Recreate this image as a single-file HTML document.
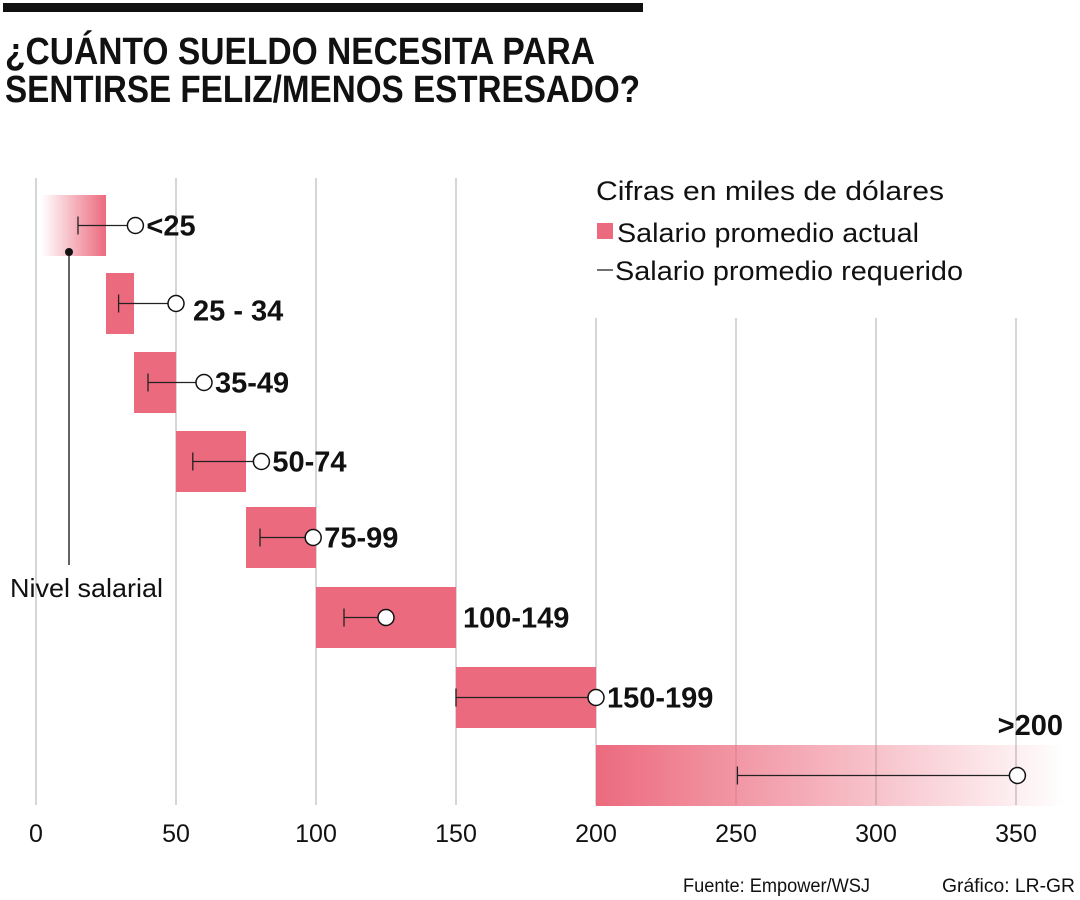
<!DOCTYPE html>
<html><head><meta charset="utf-8"><style>
html,body{margin:0;padding:0;background:#fff;}
svg{display:block;font-family:"Liberation Sans",sans-serif;}
</style></head><body>
<svg id="chart" width="1080" height="900" viewBox="0 0 1080 900">
<defs>
<linearGradient id="gL" x1="0" x2="1" y1="0" y2="0"><stop offset="0" stop-color="#ec6a7e" stop-opacity="0"/><stop offset="1" stop-color="#ec6a7e"/></linearGradient>
<linearGradient id="gR" x1="0" x2="1" y1="0" y2="0"><stop offset="0" stop-color="#ec6a7e"/><stop offset="1" stop-color="#ec6a7e" stop-opacity="0"/></linearGradient>
</defs>
<rect x="3" y="3" width="640" height="9" fill="#111"/>
<text x="5" y="64" font-size="38" font-weight="bold" textLength="590" lengthAdjust="spacingAndGlyphs" fill="#111">¿CUÁNTO SUELDO NECESITA PARA</text>
<text x="5" y="102" font-size="38" font-weight="bold" textLength="635" lengthAdjust="spacingAndGlyphs" fill="#111">SENTIRSE FELIZ/MENOS ESTRESADO?</text>
<g id="grid"></g>
<g id="bars"></g>
<g id="ticks"></g>
<text x="596" y="200" font-size="27" textLength="348" lengthAdjust="spacingAndGlyphs" fill="#111">Cifras en miles de dólares</text>
<rect x="597" y="223" width="16" height="16" fill="#ec6a7e"/>
<text x="617" y="242" font-size="27" textLength="302" lengthAdjust="spacingAndGlyphs" fill="#111">Salario promedio actual</text>
<line x1="597" y1="270" x2="613" y2="270" stroke="#111" stroke-width="1.2"/>
<text x="615" y="280" font-size="27" textLength="348" lengthAdjust="spacingAndGlyphs" fill="#111">Salario promedio requerido</text>
<line x1="69" y1="252" x2="69" y2="565" stroke="#111" stroke-width="1.3"/>
<circle cx="69" cy="252" r="4" fill="#111"/>
<text x="10" y="597" font-size="26" textLength="153" lengthAdjust="spacingAndGlyphs" fill="#111">Nivel salarial</text>
<text x="683" y="892" font-size="19" textLength="187" lengthAdjust="spacingAndGlyphs" fill="#111">Fuente: Empower/WSJ</text>
<text x="942" y="892" font-size="19" textLength="133" lengthAdjust="spacingAndGlyphs" fill="#111">Gráfico: LR-GR</text>
</svg>
<script>
const categories=["<25","25 - 34","35-49","50-74","75-99","100-149","150-199",">200"];
const barStart=[2,25,35,50,75,100,150,200];
const barEnd=[25,35,50,75,100,150,200,368];
const requiredLow=[15,29.5,40,56,80,110,150,250.5];
const requiredHigh=[35.5,50,60,80.5,99,125,200,350.5];
const xTicks=[0,50,100,150,200,250,300,350];
const NS="http://www.w3.org/2000/svg";
const x=v=>36+v*2.8;
const rowY=[195,273,352,431,507,587,667,745];
const rowH=61;
function mk(tag,attrs,parent){const e=document.createElementNS(NS,tag);for(const k in attrs)e.setAttribute(k,attrs[k]);parent.appendChild(e);return e;}
const grid=document.getElementById('grid'),bars=document.getElementById('bars'),ticks=document.getElementById('ticks');
xTicks.forEach((t,i)=>{
  const l=mk('line',{x1:x(t),x2:x(t),y1:t>=200?318:178,y2:805,stroke:'#c8c8c8','stroke-width':1.5},grid);
  
  
  const tx=mk('text',{x:x(t),y:842,'font-size':25,'text-anchor':'middle',fill:'#111'},ticks);
  tx.textContent=t;
  
  
});
categories.forEach((c,i)=>{
  const y0=rowY[i],cy=y0+rowH/2;
  const fill=i===0?'url(#gL)':(i===categories.length-1?'url(#gR)':'#ec6a7e');
  const r=mk('rect',{x:x(barStart[i]),y:y0,width:x(barEnd[i])-x(barStart[i]),height:rowH,fill:fill},bars);
  
  
  const wl=mk('line',{x1:x(requiredLow[i]),x2:x(requiredHigh[i]),y1:cy,y2:cy,stroke:'#222','stroke-width':1.3},bars);
  
  
  const tk=mk('line',{x1:x(requiredLow[i]),x2:x(requiredLow[i]),y1:cy-9,y2:cy+9,stroke:'#222','stroke-width':1.3},bars);
  
  
  const ci=mk('circle',{cx:x(requiredHigh[i]),cy:cy,r:8,fill:'#fff',stroke:'#111','stroke-width':1.5},bars);
  
  
  let lx,ly,anchor='start';
  if(i===categories.length-1){lx=1063;ly=y0-10;anchor='end';}
  else{lx=Math.max(x(requiredHigh[i])+11,x(barEnd[i])+7);ly=cy+10;}
  if(i===1){ly=cy+17;lx=x(requiredHigh[i])+17;}
  const lb=mk('text',{x:lx,y:ly,'font-size':29,'font-weight':'bold','text-anchor':anchor,fill:'#111'},bars);
  lb.textContent=c;
  
  
});
</script>
</body></html>
